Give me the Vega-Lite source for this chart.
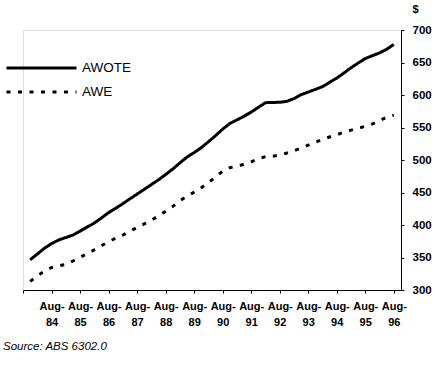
{
  "$schema": "https://vega.github.io/schema/vega-lite/v6.json",
  "width": 378,
  "height": 260,
  "autosize": {"type": "none"},
  "padding": {"left": 23, "top": 30, "right": 38, "bottom": 76},
  "background": "white",
  "title": {
    "text": "Source: ABS 6302.0",
    "orient": "bottom",
    "anchor": "start",
    "frame": "group",
    "dx": -20,
    "offset": 14,
    "font": "Liberation Sans",
    "fontSize": 11.5,
    "fontStyle": "italic",
    "fontWeight": "normal",
    "color": "black"
  },
  "data": {
    "values": [
      {"date": "1983-11-15", "AWOTE": 346.6, "AWE": 313.2},
      {"date": "1984-02-15", "AWOTE": 355.4, "AWE": 321.7},
      {"date": "1984-05-15", "AWOTE": 364.2, "AWE": 328.9},
      {"date": "1984-08-15", "AWOTE": 371.4, "AWE": 334.6},
      {"date": "1984-11-15", "AWOTE": 377.1, "AWE": 337.4},
      {"date": "1985-02-15", "AWOTE": 380.8, "AWE": 339.4},
      {"date": "1985-05-15", "AWOTE": 384.5, "AWE": 344.6},
      {"date": "1985-08-15", "AWOTE": 390.6, "AWE": 350.3},
      {"date": "1985-11-15", "AWOTE": 396.9, "AWE": 355.8},
      {"date": "1986-02-15", "AWOTE": 403.2, "AWE": 362.0},
      {"date": "1986-05-15", "AWOTE": 410.8, "AWE": 368.2},
      {"date": "1986-08-15", "AWOTE": 419.0, "AWE": 374.2},
      {"date": "1986-11-15", "AWOTE": 425.8, "AWE": 379.7},
      {"date": "1987-02-15", "AWOTE": 432.9, "AWE": 384.6},
      {"date": "1987-05-15", "AWOTE": 440.2, "AWE": 390.3},
      {"date": "1987-08-15", "AWOTE": 447.5, "AWE": 396.2},
      {"date": "1987-11-15", "AWOTE": 454.9, "AWE": 401.7},
      {"date": "1988-02-15", "AWOTE": 462.2, "AWE": 407.4},
      {"date": "1988-05-15", "AWOTE": 469.5, "AWE": 414.0},
      {"date": "1988-08-15", "AWOTE": 477.7, "AWE": 421.1},
      {"date": "1988-11-15", "AWOTE": 486.2, "AWE": 428.6},
      {"date": "1989-02-15", "AWOTE": 495.7, "AWE": 437.4},
      {"date": "1989-05-15", "AWOTE": 504.5, "AWE": 444.2},
      {"date": "1989-08-15", "AWOTE": 511.4, "AWE": 450.5},
      {"date": "1989-11-15", "AWOTE": 519.1, "AWE": 457.4},
      {"date": "1990-02-15", "AWOTE": 528.2, "AWE": 465.2},
      {"date": "1990-05-15", "AWOTE": 537.4, "AWE": 473.7},
      {"date": "1990-08-15", "AWOTE": 547.5, "AWE": 482.9},
      {"date": "1990-11-15", "AWOTE": 556.2, "AWE": 488.2},
      {"date": "1991-02-15", "AWOTE": 561.7, "AWE": 490.3},
      {"date": "1991-05-15", "AWOTE": 567.2, "AWE": 493.5},
      {"date": "1991-08-15", "AWOTE": 573.7, "AWE": 497.1},
      {"date": "1991-11-15", "AWOTE": 581.0, "AWE": 501.7},
      {"date": "1992-02-15", "AWOTE": 588.2, "AWE": 505.2},
      {"date": "1992-05-15", "AWOTE": 588.5, "AWE": 505.8},
      {"date": "1992-08-15", "AWOTE": 588.8, "AWE": 507.4},
      {"date": "1992-11-15", "AWOTE": 590.3, "AWE": 510.8},
      {"date": "1993-02-15", "AWOTE": 594.5, "AWE": 514.2},
      {"date": "1993-05-15", "AWOTE": 600.5, "AWE": 518.5},
      {"date": "1993-08-15", "AWOTE": 604.5, "AWE": 522.8},
      {"date": "1993-11-15", "AWOTE": 608.6, "AWE": 527.4},
      {"date": "1994-02-15", "AWOTE": 612.9, "AWE": 531.8},
      {"date": "1994-05-15", "AWOTE": 619.4, "AWE": 535.4},
      {"date": "1994-08-15", "AWOTE": 626.0, "AWE": 538.9},
      {"date": "1994-11-15", "AWOTE": 633.8, "AWE": 542.8},
      {"date": "1995-02-15", "AWOTE": 642.0, "AWE": 546.0},
      {"date": "1995-05-15", "AWOTE": 649.1, "AWE": 548.8},
      {"date": "1995-08-15", "AWOTE": 656.0, "AWE": 551.8},
      {"date": "1995-11-15", "AWOTE": 660.5, "AWE": 555.4},
      {"date": "1996-02-15", "AWOTE": 664.8, "AWE": 560.6},
      {"date": "1996-05-15", "AWOTE": 670.3, "AWE": 565.7},
      {"date": "1996-08-15", "AWOTE": 677.8, "AWE": 569.0}
    ]
  },
  "transform": [
    {"fold": ["AWOTE", "AWE"], "as": ["series", "value"]}
  ],
  "mark": {"type": "line", "color": "black", "strokeWidth": 3, "strokeCap": "butt", "strokeJoin": "round"},
  "encoding": {
    "x": {
      "field": "date",
      "type": "temporal",
      "scale": {
        "type": "utc",
        "domain": [
          {"year": 1983, "month": 8, "date": 15, "utc": true},
          {"year": 1996, "month": 11, "date": 15, "utc": true}
        ],
        "nice": false
      },
      "axis": {
        "title": null,
        "grid": false,
        "domain": true,
        "ticks": true,
        "values": [
          {"year": 1983, "month": 8, "date": 15, "utc": true},
          {"year": 1984, "month": 8, "date": 15, "utc": true},
          {"year": 1985, "month": 8, "date": 15, "utc": true},
          {"year": 1986, "month": 8, "date": 15, "utc": true},
          {"year": 1987, "month": 8, "date": 15, "utc": true},
          {"year": 1988, "month": 8, "date": 15, "utc": true},
          {"year": 1989, "month": 8, "date": 15, "utc": true},
          {"year": 1990, "month": 8, "date": 15, "utc": true},
          {"year": 1991, "month": 8, "date": 15, "utc": true},
          {"year": 1992, "month": 8, "date": 15, "utc": true},
          {"year": 1993, "month": 8, "date": 15, "utc": true},
          {"year": 1994, "month": 8, "date": 15, "utc": true},
          {"year": 1995, "month": 8, "date": 15, "utc": true},
          {"year": 1996, "month": 8, "date": 15, "utc": true}
        ],
        "labelExpr": "utcyear(datum.value) == 1983 ? '' : ['Aug-', utcFormat(datum.value, '%y')]",
        "labelFont": "Liberation Sans",
        "labelFontSize": 11,
        "labelFontWeight": "bold",
        "labelColor": "black",
        "labelLineHeight": 16,
        "labelPadding": 7,
        "labelAngle": 0,
        "labelOverlap": false,
        "labelFlush": false,
        "domainColor": "black",
        "domainOpacity": 1,
        "domainWidth": 1,
        "domainDash": [],
        "tickColor": "black",
        "tickOpacity": 1,
        "tickSize": 3,
        "tickWidth": 1,
        "tickDash": []
      }
    },
    "y": {
      "field": "value",
      "type": "quantitative",
      "scale": {"domain": [300, 700], "zero": false, "nice": false},
      "axis": {
        "orient": "right",
        "domain": true,
        "ticks": true,
        "values": [300, 350, 400, 450, 500, 550, 600, 650, 700],
        "grid": false,
        "title": "$",
        "titleAngle": 0,
        "titleAlign": "left",
        "titleBaseline": "alphabetic",
        "titleX": 11,
        "titleY": -18,
        "titleFont": "Liberation Sans",
        "titleFontSize": 11,
        "titleFontWeight": "bold",
        "titleColor": "black",
        "labelFont": "Liberation Sans",
        "labelFontSize": 11.5,
        "labelFontWeight": "bold",
        "labelColor": "black",
        "labelPadding": 8,
        "domainColor": "black",
        "domainOpacity": 1,
        "domainWidth": 1,
        "domainDash": [],
        "tickColor": "black",
        "tickOpacity": 1,
        "tickSize": 3,
        "tickWidth": 1,
        "tickDash": []
      }
    },
    "strokeDash": {
      "field": "series",
      "type": "nominal",
      "scale": {"domain": ["AWOTE", "AWE"], "range": [[1, 0], [4, 7.5]]},
      "legend": {
        "orient": "none",
        "legendX": -18,
        "legendY": 30,
        "title": null,
        "symbolType": "stroke",
        "symbolSize": 4900,
        "symbolStrokeWidth": 3,
        "symbolStrokeColor": "black",
        "labelFont": "Liberation Sans",
        "labelFontSize": 13.5,
        "labelColor": "black",
        "labelOffset": 4,
        "clipHeight": 16,
        "rowPadding": 8,
        "padding": 0
      }
    }
  }
}
